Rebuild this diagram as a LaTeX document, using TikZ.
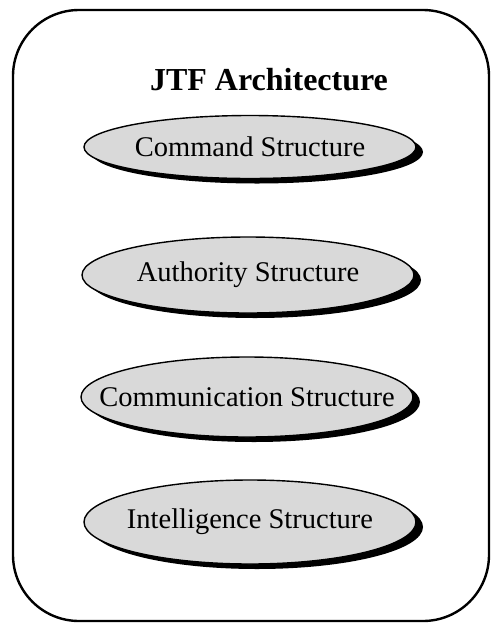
\documentclass[tikz,border=0pt]{standalone}
\usepackage{fontspec}
\setmainfont{Liberation Serif}
\usetikzlibrary{shapes.geometric,shadows}

\begin{document}
\begin{tikzpicture}[x=1pt, y=-1pt,
	part/.style = {ellipse, draw, line width=1.4pt, fill=black!15, minimum width=332pt, inner sep=0pt,
		drop shadow={shadow xshift=7pt, shadow yshift=-5pt, fill=black, opacity=1}},
	partname/.style = {inner sep=0pt, font=\fontsize{28.5}{30}\selectfont}]
	\useasboundingbox (0,0) rectangle (491,625);
	\draw[line width=2.4pt, rounded corners=66pt] (13,10) rectangle (489,621);
	\node[anchor=base, inner sep=0pt, font=\bfseries\fontsize{32}{34}\selectfont] (title) at (269,90) {JTF Architecture};
	\node[part, minimum height=63pt, label={[partname]center:Command Structure}] (command) at (250,147) {};
	\node[part, minimum height=76pt, label={[partname]center:Authority Structure}] (authority) at (248,275) {};
	\node[part, minimum height=80pt, label={[partname]center:Communication Structure}] (communication) at (247,397) {};
	\node[part, minimum height=84pt, label={[partname]center:Intelligence Structure}] (intelligence) at (250,522) {};
\end{tikzpicture}
\end{document}
